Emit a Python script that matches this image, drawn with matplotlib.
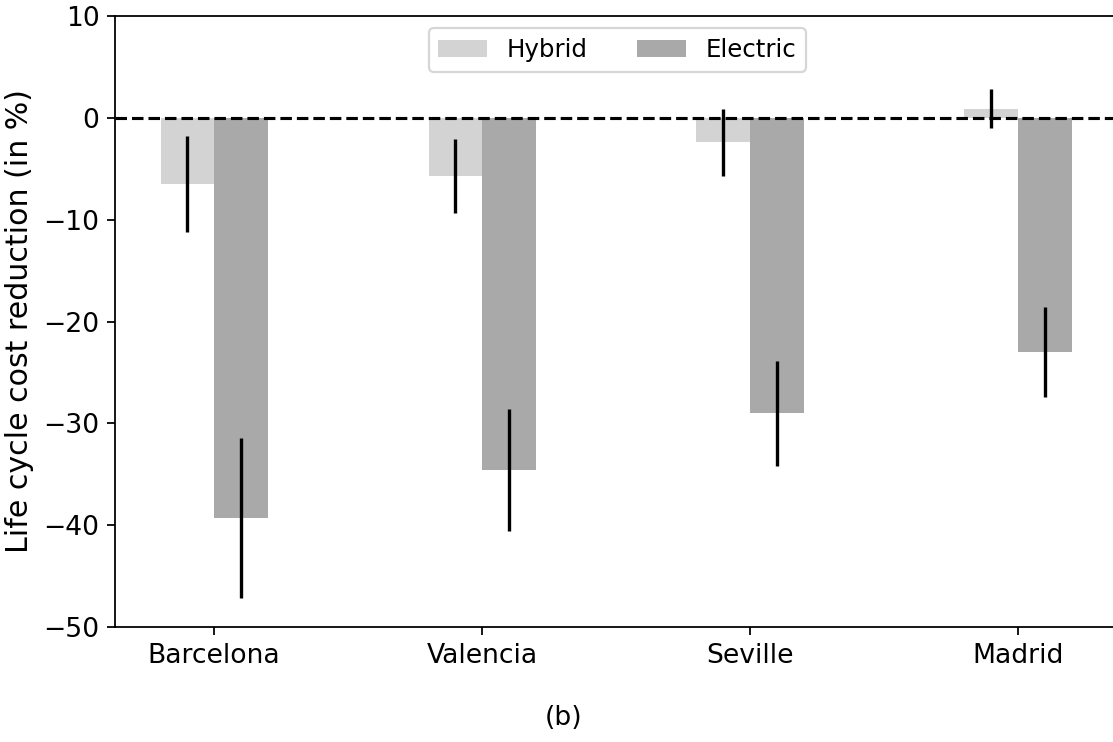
import matplotlib
matplotlib.use("Agg")
import matplotlib.pyplot as plt
import numpy as np

cities = ["Barcelona", "Valencia", "Seville", "Madrid"]
hybrid = [-6.5, -5.7, -2.4, 0.9]
hybrid_err = [4.75, 3.6, 3.3, 1.9]
electric = [-39.3, -34.6, -29.0, -23.0]
electric_err = [7.85, 6.0, 5.15, 4.4]

dpi = 160
fig = plt.figure(figsize=(1113 / dpi, 742 / dpi), dpi=dpi)
ax = fig.add_axes([115 / 1113, 1 - 627 / 742, 1.004 - 115 / 1113, (627 - 16) / 742])

x = np.arange(len(cities))
w = 0.2
ax.bar(x - w / 2, hybrid, w, color="lightgray", label="Hybrid")
ax.bar(x + w / 2, electric, w, color="darkgray", label="Electric")
ax.errorbar(x - w / 2, hybrid, yerr=hybrid_err, fmt="none", ecolor="black", elinewidth=1.5, capsize=0)
ax.errorbar(x + w / 2, electric, yerr=electric_err, fmt="none", ecolor="black", elinewidth=1.5, capsize=0)
ax.axhline(0, color="black", linestyle="--", linewidth=1.4)

ax.set_ylim(-50, 10)
ax.set_xlim(-0.37, 3.371)
ax.set_xticks(x)
ax.set_xticklabels(cities)
ax.tick_params(labelsize=12)
ax.set_ylabel("Life cycle cost reduction (in %)", fontsize=13.5)
ax.spines["right"].set_visible(False)
ax.legend(loc="upper center", ncol=2, fontsize=11, bbox_to_anchor=(0.501, 1.0))

fig.text(564 / 1113, 1 - 718 / 742, "(b)", ha="center", va="center", fontsize=12)

fig.savefig("out.png", dpi=dpi)
